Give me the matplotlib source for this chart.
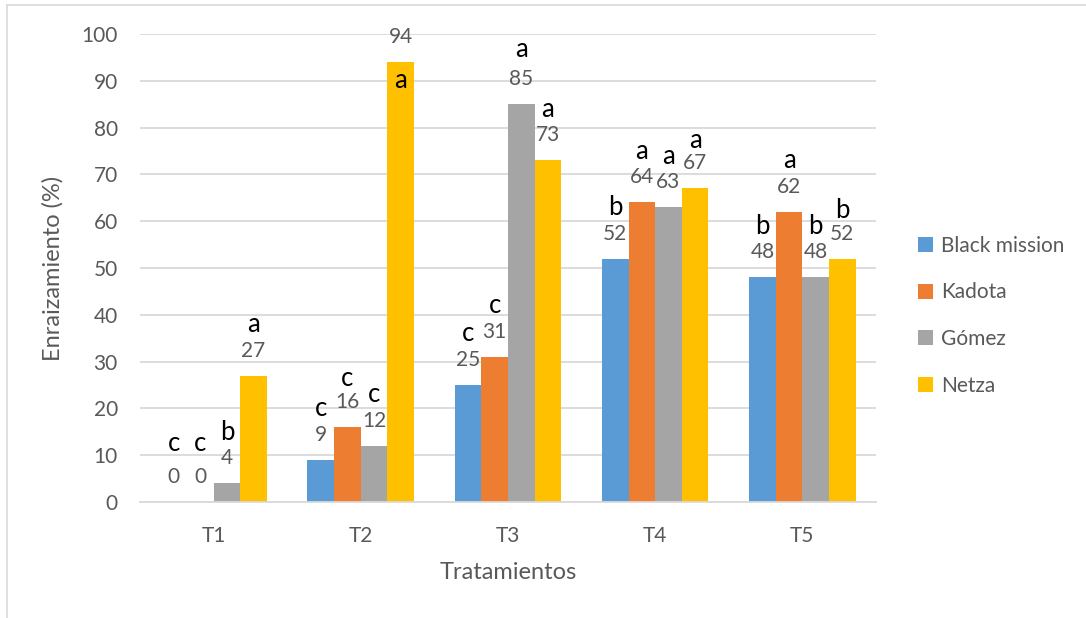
import matplotlib
matplotlib.use("Agg")
import matplotlib.pyplot as plt
from matplotlib.lines import Line2D
from matplotlib.patches import Patch
import numpy as np

plt.rcParams['font.family'] = ['Lato', 'DejaVu Sans']

# Data
treatments = ["T1", "T2", "T3", "T4", "T5"]
series_names = ["Black mission", "Kadota", "Gómez", "Netza"]
black_mission = [0, 9, 25, 52, 48]
kadota = [0, 16, 31, 64, 62]
gomez = [4, 12, 85, 63, 48]
netza = [27, 94, 73, 67, 52]

# Significance letters (rows follow series order)
letters_black_mission = ["c", "c", "c", "b", "b"]
letters_kadota = ["c", "c", "c", "a", "a"]
letters_gomez = ["b", "c", "a", "a", "b"]
letters_netza = ["a", "a", "a", "a", "b"]

values = [black_mission, kadota, gomez, netza]
letters = [letters_black_mission, letters_kadota, letters_gomez, letters_netza]
colors = ["#5B9BD5", "#ED7D31", "#A5A5A5", "#FFC000"]

label_gray = "#595959"
grid_gray = "#D9D9D9"

fig = plt.figure(figsize=(10.86, 6.18), dpi=100)
ax = fig.add_axes([0.1289, 0.1877, 0.6777, 0.7573])

x = np.arange(len(treatments))
width = 0.181
offsets = (np.arange(4) - 1.5) * width

# per-letter vertical nudges (pixels), keyed by (series, treatment)
letter_nudge = {(0, 0): 8, (1, 0): 8, (2, 2): 4, (1, 1): -2, (3, 3): -3, (3, 4): -3}

for i, (vals, col) in enumerate(zip(values, colors)):
    ax.bar(x + offsets[i], vals, width, color=col, edgecolor="none", zorder=2)
    for j, v in enumerate(vals):
        xc = x[j] + offsets[i]
        ax.annotate(str(v), (xc, v), xytext=(0, 25), textcoords="offset pixels",
                    ha="center", va="center", fontsize=15, color=label_gray)
        if i == 3 and j == 1:
            dy = -18
        else:
            dy = 51 + letter_nudge.get((i, j), 0)
        ax.annotate(letters[i][j], (xc, v), xytext=(0, dy), textcoords="offset pixels",
                    ha="center", va="center", fontsize=18.5, color="black")

ax.set_xlim(-0.5, len(treatments) - 0.5)
ax.set_ylim(0, 100)
ax.set_yticks(np.arange(0, 101, 10))
ax.set_xticks(x)
ax.set_xticklabels(treatments)
ax.yaxis.grid(True, color=grid_gray, linewidth=1.3, zorder=0)
ax.set_axisbelow(True)
for s in ["top", "right", "left"]:
    ax.spines[s].set_visible(False)
ax.spines["bottom"].set_color(grid_gray)
ax.spines["bottom"].set_linewidth(1.3)
ax.tick_params(axis="both", length=0, labelsize=15, labelcolor=label_gray)
ax.tick_params(axis="y", pad=16)
ax.tick_params(axis="x", pad=17)

ax.set_ylabel("Enraizamiento (%)", fontsize=17, color=label_gray, labelpad=13)
ax.set_xlabel("Tratamientos", fontsize=17, color=label_gray, labelpad=12)

handles = [Patch(facecolor=c, edgecolor="none") for c in colors]
fig.legend(handles, series_names, loc="upper left", bbox_to_anchor=(0.838, 0.632),
           frameon=False, fontsize=15, labelcolor=label_gray,
           handlelength=0.72, handleheight=0.72, handletextpad=0.35,
           labelspacing=1.28, borderaxespad=0)

# chart-area frame (top and left edges)
fig.add_artist(Line2D([7 / 1086, 1.0], [1 - 5 / 618, 1 - 5 / 618], color=grid_gray,
                      linewidth=1.2, transform=fig.transFigure))
fig.add_artist(Line2D([7 / 1086, 7 / 1086], [0.0, 1 - 5 / 618], color=grid_gray,
                      linewidth=1.2, transform=fig.transFigure))

fig.savefig("out.png", dpi=100)
